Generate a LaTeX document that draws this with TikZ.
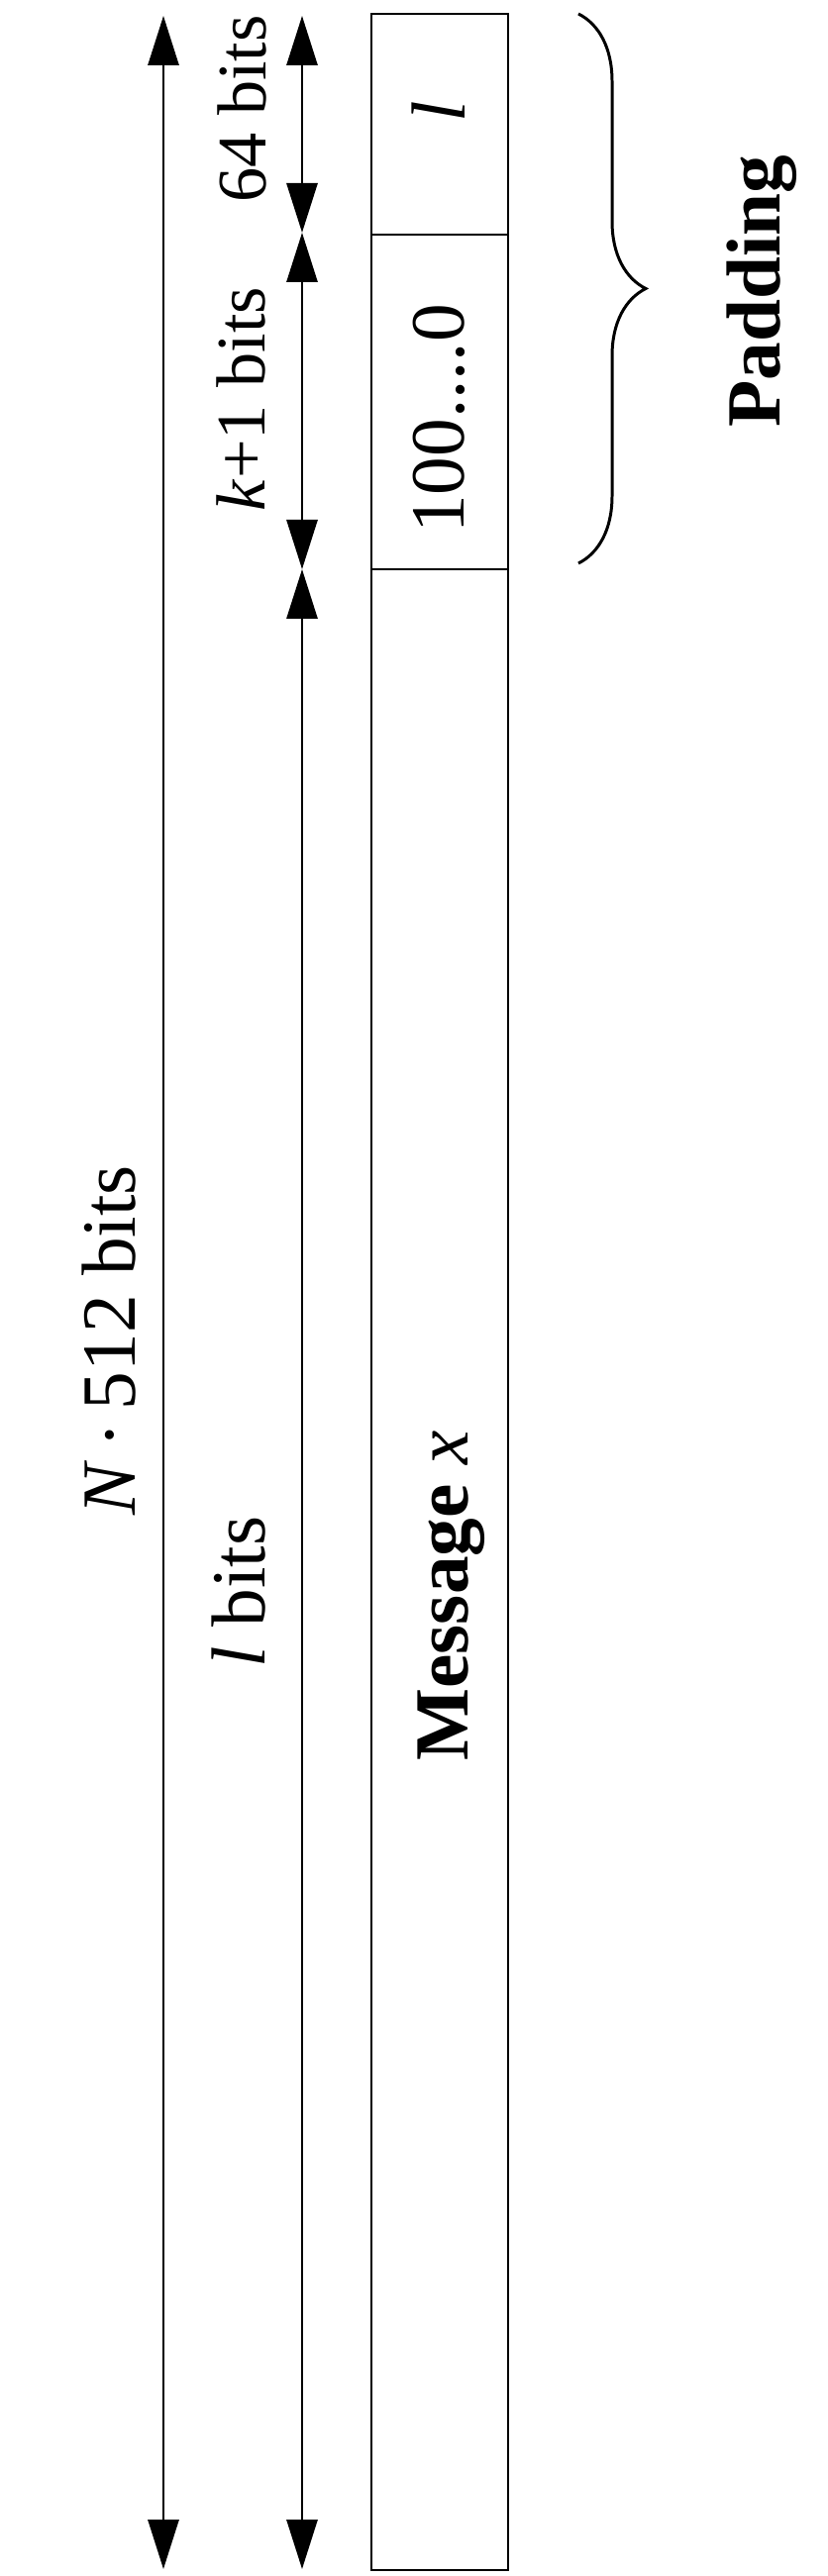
\documentclass[tikz,border=0pt]{standalone}
\usepackage{fontspec}
\setmainfont{Liberation Serif}
\usetikzlibrary{arrows.meta, decorations.pathreplacing}

\begin{document}
\begin{tikzpicture}[x=0.1mm, y=-0.1mm,
    cota/.style={{Triangle[length=5mm, width=3.1mm]}-{Triangle[length=5mm, width=3.1mm]}, line width=0.85pt},
    etiqueta/.style={rotate=90, inner sep=0pt, font=\fontsize{22}{26}\selectfont},
    chica/.style={etiqueta, font=\fontsize{20}{24}\selectfont},
    celda/.style={line width=0.8pt}]
    \useasboundingbox (0,0) rectangle (835,2602);

    % Bloque: mensaje + relleno (cortes del bloque)
    \coordinate (arriba) at (375,14);
    \coordinate (corte1) at (375,237);
    \coordinate (corte2) at (375,575);
    \coordinate (abajo) at (513,2596);
    \draw[celda] (arriba) rectangle (abajo);
    \draw[celda] (corte1) -- ++(138,0);
    \draw[celda] (corte2) -- ++(138,0);

    % Textos dentro del bloque
    \node[etiqueta] (largo) at (443,113) {\textit{l}};
    \node[etiqueta] (ceros) at (443,423) {100....0};
    \node[etiqueta] (mensaje) at (456,1612) {\textbf{Message} \textit{x}};

    % Cota exterior: N*512 bits
    \coordinate (extA) at (165,16);
    \coordinate (extB) at (165,2595);
    \draw[cota] (extA) -- (extB);
    \node[etiqueta] (total) at (110,1354) {\textit{N}\,·\,512 bits};

    % Cotas interiores: 64 bits, k+1 bits, l bits
    \coordinate (intA) at (305,16);
    \coordinate (intB) at (305,235);
    \coordinate (intC) at (305,575);
    \coordinate (intD) at (305,2595);
    \draw[cota] (intA) -- (intB);
    \draw[cota] (intB) -- (intC);
    \draw[cota] (intC) -- (intD);
    \node[chica] (bits64) at (244,110) {64 bits};
    \node[chica] (bitsk) at (243,403) {\textit{k}+1 bits};
    \node[etiqueta] (bitsl) at (241,1608) {\textit{l} bits};

    % Llave del relleno
    \coordinate (llaveA) at (584,14);
    \coordinate (llaveB) at (584,569);
    \draw[line width=0.85pt, decorate, decoration={brace, amplitude=6.8mm}] (llaveA) -- (llaveB);
    \node[etiqueta] (relleno) at (769,294) {\textbf{Padding}};
\end{tikzpicture}
\end{document}
